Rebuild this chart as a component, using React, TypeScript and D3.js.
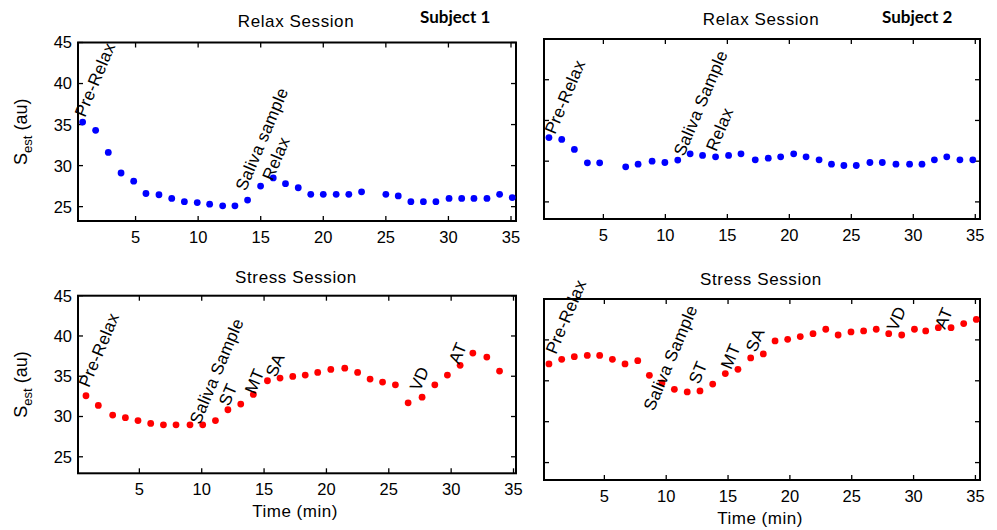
import React from 'react';
import * as d3 from 'd3';

// Relax session, subject 1
const relaxTime1 = [0.77, 1.81, 2.82, 3.84, 4.85, 5.83, 6.87, 7.89, 8.9, 9.93, 10.92, 11.96, 12.94, 13.95, 14.99, 16.0, 16.98, 18.0, 19.0, 20.0, 21.03, 22.04, 23.06, 25.0, 25.99, 27.0, 28.0, 29.0, 30.05, 31.06, 32.04, 33.08, 34.09, 35.1];
const relaxS1 = [35.3, 34.3, 31.6, 29.1, 28.1, 26.6, 26.45, 26.0, 25.6, 25.5, 25.3, 25.1, 25.1, 25.8, 27.5, 28.5, 27.8, 27.3, 26.5, 26.5, 26.5, 26.5, 26.8, 26.5, 26.3, 25.6, 25.6, 25.6, 26.0, 26.0, 26.0, 26.0, 26.5, 26.1];

// Relax session, subject 2
const relaxTime2 = [0.61, 1.64, 2.66, 3.71, 4.7, 6.8, 7.8, 8.93, 9.96, 11.0, 12.0, 13.0, 14.05, 15.1, 16.1, 17.25, 18.3, 19.3, 20.35, 21.35, 22.4, 23.4, 24.4, 25.4, 26.5, 27.5, 28.6, 29.7, 30.7, 31.7, 32.7, 33.76, 34.8];
const relaxS2 = [32.9, 32.67, 31.44, 29.8, 29.8, 29.3, 29.63, 30.0, 29.84, 30.13, 30.9, 30.7, 30.53, 30.7, 30.9, 30.17, 30.37, 30.53, 30.9, 30.53, 30.17, 29.63, 29.47, 29.47, 29.84, 29.84, 29.63, 29.63, 29.63, 30.17, 30.53, 30.17, 30.17];

// Stress session, subject 1
const stressTime1 = [0.72, 1.71, 2.86, 3.88, 4.89, 5.91, 6.93, 7.94, 9.06, 10.08, 11.1, 12.1, 13.13, 14.14, 15.27, 16.28, 17.3, 18.3, 19.3, 20.35, 21.47, 22.5, 23.5, 24.5, 25.53, 26.55, 27.67, 28.69, 29.7, 30.72, 31.74, 32.86, 33.88];
const stressS1 = [32.58, 31.38, 30.18, 29.85, 29.5, 29.14, 28.97, 28.97, 28.97, 28.97, 29.5, 30.84, 31.54, 32.74, 34.44, 34.77, 34.98, 35.14, 35.48, 35.85, 36.0, 35.48, 34.65, 34.28, 33.94, 31.7, 32.4, 33.94, 35.14, 36.35, 37.88, 37.38, 35.64];

// Stress session, subject 2
const stressTime2 = [0.52, 1.55, 2.57, 3.62, 4.62, 5.65, 6.67, 7.7, 8.64, 9.66, 10.66, 11.7, 12.73, 13.76, 14.78, 15.8, 16.83, 17.85, 18.8, 19.82, 20.84, 21.87, 22.9, 23.9, 24.94, 25.96, 26.98, 27.99, 29.04, 30.07, 30.98, 32.0, 33.03, 34.05, 35.07];
const stressS2 = [37.06, 37.63, 37.95, 38.1, 38.1, 37.63, 37.06, 37.46, 35.67, 34.74, 33.96, 33.64, 33.76, 34.6, 35.88, 36.4, 37.79, 38.28, 39.87, 40.07, 40.4, 40.76, 41.3, 40.6, 40.97, 41.1, 41.3, 40.76, 40.6, 41.3, 41.1, 41.5, 41.5, 41.99, 42.5];

// event markers: label, time, level
const relaxNotes1 = [['Pre-Relax', 0.96, 35.8], ['Saliva sample', 13.8, 26.8], ['Relax', 15.95, 28.05]];
const relaxNotes2 = [['Pre-Relax', 1.1, 33.2], ['Saliva Sample', 11.5, 30.5], ['Relax', 14.1, 31.1]];
const stressNotes1 = [['Pre-Relax', 0.96, 33.5], ['Saliva Sample', 9.86, 28.93], ['ST', 12.19, 31.17], ['MT', 14.27, 32.66], ['SA', 15.96, 34.77], ['VD', 27.5, 33.03], ['AT', 30.63, 36.39]];
const stressNotes2 = [['Pre-Relax', 1.09, 38.16], ['Saliva Sample', 9.0, 31.2], ['ST', 12.65, 34.5], ['MT', 15.24, 36.3], ['SA', 17.25, 38.4], ['VD', 28.66, 40.97], ['AT', 32.54, 41.2]];

const xTicks = [5, 10, 15, 20, 25, 30, 35];
const yTicks = [25, 30, 35, 40, 45];

const FONT = 'Arial, "Liberation Sans", sans-serif';

const Panel = ({ box, xDom, yDom, times, vals, color, title, titleX, titleY, notes, yLabels, yTitle, xTitle, xTitleX, xTitleY }) => {
  const x = d3.scaleLinear().domain(xDom).range([box.x, box.x + box.w]);
  const y = d3.scaleLinear().domain(yDom).range([box.y + box.h, box.y]);
  const tk = 5;
  const yMid = box.y + box.h / 2;

  return (
    <g>
      <text x={titleX} y={titleY} textAnchor="middle" fontSize={17} letterSpacing={0.6} fontFamily={FONT}>
        {title}
      </text>

      {/* ticks, inward on all sides */}
      {xTicks.map((t) => (
        <g key={'x' + t}>
          <line x1={x(t)} x2={x(t)} y1={box.y + box.h} y2={box.y + box.h - tk} stroke="#000" strokeWidth={1.3} />
          <line x1={x(t)} x2={x(t)} y1={box.y} y2={box.y + tk} stroke="#000" strokeWidth={1.3} />
          <text x={x(t)} y={box.y + box.h + 22} textAnchor="middle" fontSize={16.5} fontFamily={FONT}>
            {t}
          </text>
        </g>
      ))}
      {yTicks.map((t) => (
        <g key={'y' + t}>
          <line x1={box.x} x2={box.x + tk} y1={y(t)} y2={y(t)} stroke="#000" strokeWidth={1.3} />
          <line x1={box.x + box.w} x2={box.x + box.w - tk} y1={y(t)} y2={y(t)} stroke="#000" strokeWidth={1.3} />
          {yLabels && (
            <text x={box.x - 6} y={y(t)} dy="0.36em" textAnchor="end" fontSize={16.5} fontFamily={FONT}>
              {t}
            </text>
          )}
        </g>
      ))}

      <rect x={box.x} y={box.y} width={box.w} height={box.h} fill="none" stroke="#000" strokeWidth={2} />

      {times.map((t, i) => (
        <circle key={i} cx={x(t)} cy={y(vals[i])} r={3.4} fill={color} />
      ))}

      {notes.map(([label, t, v]) => (
        <text
          key={label}
          transform={`translate(${x(t)},${y(v)}) rotate(-67)`}
          fontSize={17}
          letterSpacing={0.3}
          fontFamily={FONT}
        >
          {label}
        </text>
      ))}

      {yTitle && (
        <text transform={`translate(27,${yMid}) rotate(-90)`} textAnchor="middle" fontSize={18} fontFamily={FONT}>
          S
          <tspan fontSize={13} dy={5}>est</tspan>
          <tspan dy={-5}> (au)</tspan>
        </text>
      )}

      {xTitle && (
        <text x={xTitleX} y={xTitleY} textAnchor="middle" fontSize={17} letterSpacing={0.5} fontFamily={FONT}>
          Time (min)
        </text>
      )}
    </g>
  );
};

const App = () => {
  return (
    <svg
      width={997}
      height={530}
      style={{ position: 'absolute', left: 0, top: 0, background: '#fff' }}
    >
      <Panel
        box={{ x: 78, y: 42.5, w: 438, h: 178.5 }}
        xDom={[0.4, 35.4]}
        yDom={[23.25, 45]}
        times={relaxTime1}
        vals={relaxS1}
        color="#0000ff"
        title="Relax Session"
        titleX={296}
        titleY={27}
        notes={relaxNotes1}
        yLabels
        yTitle
      />
      <Panel
        box={{ x: 544, y: 39, w: 436, h: 180 }}
        xDom={[0.21, 35.38]}
        yDom={[22.9, 45]}
        times={relaxTime2}
        vals={relaxS2}
        color="#0000ff"
        title="Relax Session"
        titleX={761}
        titleY={25}
        notes={relaxNotes2}
      />
      <Panel
        box={{ x: 78, y: 295.7, w: 438, h: 177.6 }}
        xDom={[0.08, 35.2]}
        yDom={[22.95, 45]}
        times={stressTime1}
        vals={stressS1}
        color="#ff0000"
        title="Stress Session"
        titleX={296}
        titleY={283}
        notes={stressNotes1}
        yLabels
        yTitle
        xTitle
        xTitleX={295}
        xTitleY={517}
      />
      <Panel
        box={{ x: 544, y: 299, w: 436, h: 181 }}
        xDom={[0.12, 35.37]}
        yDom={[22.87, 45]}
        times={stressTime2}
        vals={stressS2}
        color="#ff0000"
        title="Stress Session"
        titleX={761}
        titleY={285}
        notes={stressNotes2}
        xTitle
        xTitleX={760}
        xTitleY={524}
      />

      <text x={420} y={23.3} fontSize={17} fontWeight={700} fontFamily="Lato, 'Open Sans', sans-serif">
        Subject 1
      </text>
      <text x={882} y={22.7} fontSize={17} fontWeight={700} fontFamily="Lato, 'Open Sans', sans-serif">
        Subject 2
      </text>
    </svg>
  );
};

export default App;
